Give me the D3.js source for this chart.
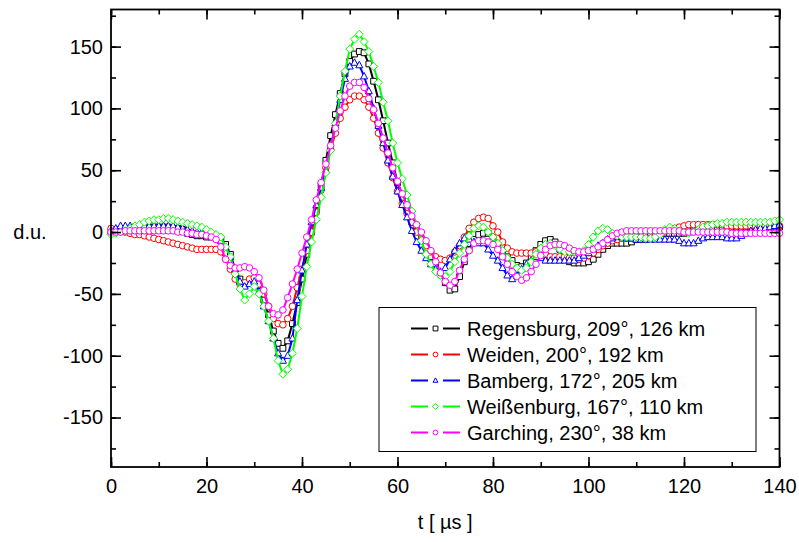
<!DOCTYPE html>
<html>

<head>
    <title>Feldstärke-Wellenformen</title>
    <meta http-equiv="Content-Type" content="text/html;charset=utf-8" />
    <script src="https://cdn.jsdelivr.net/npm/d3@7"></script>
    <style>
        body {
            margin: 0;
            background: #fff;
        }

        text {
            font-family: Arial, "Liberation Sans", sans-serif;
        }
    </style>
</head>

<body>
    <svg width="799" height="542" id="mainsvg"></svg>
    <script>
        // sample times in µs, one sample per µs
        const times = d3.range(0, 141);

        // values (d.u.), index = time in µs
        const regensburg = [
            0, 1, 2, 3, 3, 4, 4, 4, 4, 4,
            4, 4, 4, 3, 3, 2, -1, -2, -3, -3,
            -4, -4, -4, -6, -10, -18, -30, -38, -43, -41,
            -40, -45, -55, -67, -80, -90, -94, -88, -74, -57,
            -38, -18, 0, 18, 38, 58, 78, 95, 112, 128,
            138, 144, 146, 145, 136, 122, 107, 90, 72, 56,
            40, 28, 18, 8, 1, -6, -13, -20, -27, -34,
            -41, -47, -46, -36, -24, -14, -6, -2, -1, -1,
            -6, -11, -16, -20, -23, -27, -28, -25, -20, -15,
            -10, -7, -6, -8, -14, -20, -24, -25, -25, -25,
            -24, -22, -18, -14, -11, -9, -9, -9, -9, -8,
            -6, -3, -1, -1, -1, -1, -1, -1, -1, -1,
            -1, 0, 1, 3, 3, 3, 4, 4, 4, 4,
            4, 4, 4, 4, 4, 4, 4, 4, 4, 4, 4
        ];
        const weiden = [
            3, 2, 1, 0, -1, -2, -2, -3, -4, -5,
            -6, -7, -8, -9, -10, -11, -12, -13, -14, -14,
            -14, -14, -14, -16, -22, -30, -38, -42, -41, -38,
            -37, -42, -50, -60, -70, -74, -75, -70, -60, -45,
            -30, -15, 0, 16, 34, 52, 67, 80, 92, 101,
            107, 110, 110, 107, 101, 92, 80, 68, 56, 44,
            33, 23, 15, 8, 0, -6, -11, -16, -20, -22,
            -23, -21, -16, -11, -4, 3, 8, 11, 12, 11,
            5, 0, -8, -13, -16, -17, -17, -17, -17, -16,
            -16, -18, -20, -20, -20, -20, -21, -21, -22, -21,
            -19, -17, -14, -11, -9, -7, -6, -5, -5, -5,
            -5, -6, -6, -5, -3, -1, 1, 2, 3, 4,
            5, 6, 6, 6, 6, 6, 6, 6, 6, 5,
            5, 5, 5, 5, 5, 5, 5, 5, 5, 5, 5
        ];
        const bamberg = [
            1, 3, 5, 5, 5, 4, 4, 5, 5, 5,
            5, 5, 5, 5, 4, 3, 2, 1, 0, 0,
            -1, -2, -4, -7, -12, -20, -30, -40, -44, -42,
            -40, -48, -60, -72, -86, -98, -104, -100, -86, -55,
            -31, -10, 8, 22, 36, 50, 68, 88, 107, 124,
            134, 137, 135, 126, 114, 100, 86, 72, 58, 45,
            33, 22, 12, 1, -8, -15, -21, -26, -30, -32,
            -29, -22, -15, -9, -5, -6, -8, -9, -9, -14,
            -19, -23, -29, -35, -38, -35, -30, -26, -23, -20,
            -21, -23, -23, -23, -23, -23, -23, -23, -21, -19,
            -17, -14, -11, -9, -6, -5, -4, -4, -5, -5,
            -6, -6, -6, -6, -6, -6, -6, -6, -6, -7,
            -9, -9, -9, -7, -5, -4, -4, -4, -4, -5,
            -5, -5, -3, -1, 1, 2, 3, 3, 4, 5, 6
        ];
        const weissenburg = [
            -2, -1, 0, 1, 3, 5, 6, 8, 9, 10,
            10, 11, 11, 10, 9, 8, 7, 6, 5, 4,
            2, 0, -2, -4, -12, -20, -34, -46, -55, -50,
            -44, -50, -60, -72, -86, -104, -115, -111, -98, -78,
            -52, -28, -8, 10, 28, 48, 66, 88, 110, 130,
            148, 156, 160, 154, 146, 134, 121, 105, 90, 72,
            56, 43, 30, 17, 6, -7, -18, -26, -32, -35,
            -36, -32, -24, -17, -10, -3, 3, 5, 4, 0,
            -4, -9, -15, -21, -26, -29, -31, -29, -24, -18,
            -13, -10, -9, -11, -14, -16, -16, -16, -16, -15,
            -10, -4, 1, 3, 2, -1, -3, -4, -4, -4,
            -4, -4, -5, -5, -4, -2, 2, 4, 3, 1,
            0, -1, 0, 2, 4, 5, 6, 7, 7, 8,
            8, 8, 8, 8, 8, 8, 8, 8, 8, 9, 10
        ];
        const garching = [
            0, 0, 0, 1, 1, 1, 1, 1, 1, 1,
            1, 1, 1, 1, 0, 0, -1, -1, -2, -2,
            -3, -4, -6, -12, -22, -27, -29, -29, -28, -29,
            -32, -37, -47, -60, -66, -67, -63, -53, -42, -30,
            -17, -4, 10, 26, 40, 55, 70, 84, 98, 110,
            118, 121, 121, 117, 108, 99, 88, 76, 64, 52,
            41, 31, 22, 13, 6, 0, -7, -15, -24, -33,
            -40, -43, -40, -31, -22, -15, -9, -7, -7, -8,
            -10, -14, -20, -26, -32, -36, -39, -37, -32, -26,
            -19, -14, -11, -10, -10, -11, -13, -15, -16, -16,
            -15, -14, -12, -9, -6, -3, -1, 0, 1, 1,
            1, 1, 1, 1, 1, 1, 1, 1, 1, 1,
            0, 0, 0, 0, 0, 0, 0, 0, 0, 0,
            -1, -1, -1, -1, -1, -1, -1, -1, -1, -1, -1
        ];

        const seriesNames = [
            'Regensburg, 209°, 126 km',
            'Weiden, 200°, 192 km',
            'Bamberg, 172°, 205 km',
            'Weißenburg, 167°, 110 km',
            'Garching, 230°, 38 km'
        ];
        const seriesValues = [regensburg, weiden, bamberg, weissenburg, garching];
        const seriesColors = ['#000000', '#ff0000', '#0000ff', '#00ff00', '#ff00ff'];
        const seriesSymbols = ['square', 'circle', 'triangle', 'diamond', 'circle'];

        const xTicks = [0, 20, 40, 60, 80, 100, 120, 140];
        const xMinor = d3.range(0, 141, 10);
        const yTicks = [-150, -100, -50, 0, 50, 100, 150];
        const yMinor = d3.range(-175, 180, 25);

        // the usual routine
        const svg = d3.select('svg');
        const width = +svg.attr('width');
        const height = +svg.attr('height');
        const margin = { top: 9.5, right: 19.5, bottom: 75, left: 111 };
        const innerWidth = width - margin.left - margin.right;
        const innerHeight = height - margin.top - margin.bottom;
        const mainGroup = svg.append('g')
            .attr('transform', `translate(${margin.left}, ${margin.top})`);

        const xScale = d3.scaleLinear().domain([0, 140]).range([0, innerWidth]);
        const yScale = d3.scaleLinear().domain([-190, 180]).range([innerHeight, 0]);

        // marker shapes (open symbols, white inside)
        const markerPath = (type, s) => {
            if (type === 'square') return `M${-s},${-s}h${2 * s}v${2 * s}h${-2 * s}Z`;
            if (type === 'triangle') return `M0,${-s * 1.1}L${s},${s * 0.75}L${-s},${s * 0.75}Z`;
            if (type === 'diamond') return `M0,${-s}L${s},0L0,${s}L${-s},0Z`;
            return `M${s},0A${s},${s} 0 1,1 ${-s},0A${s},${s} 0 1,1 ${s},0Z`;
        };
        const markerSize = { square: 2.9, circle: 3.3, triangle: 3.5, diamond: 4 };

        const line = d3.line()
            .x((d, i) => xScale(times[i]))
            .y(d => yScale(d));

        seriesValues.forEach((vals, k) => {
            const g = mainGroup.append('g');
            g.append('path').datum(vals)
                .attr('d', line)
                .attr('fill', 'none')
                .attr('stroke', seriesColors[k])
                .attr('stroke-width', 2)
                .attr('stroke-linejoin', 'round');
            g.selectAll('path.mk').data(vals).enter().append('path')
                .attr('class', 'mk')
                .attr('d', markerPath(seriesSymbols[k], markerSize[seriesSymbols[k]]))
                .attr('transform', (d, i) => `translate(${xScale(times[i])},${yScale(d)})`)
                .attr('fill', 'white')
                .attr('stroke', seriesColors[k])
                .attr('stroke-width', 1);
        });

        // axes: ticks point inward on all four sides
        const styleAxis = sel => {
            sel.select('.domain').remove();
            sel.selectAll('.tick line').attr('stroke', 'black').attr('stroke-width', 1.6);
            sel.selectAll('.tick text').attr('font-size', '20px').attr('fill', 'black');
        };
        const noLabels = sel => { styleAxis(sel); sel.selectAll('.tick text').remove(); };
        const plain = d => String(d);

        mainGroup.append('g').attr('transform', `translate(0, ${innerHeight})`)
            .call(d3.axisBottom(xScale).tickValues(xMinor).tickSize(-5)).call(noLabels);
        mainGroup.append('g').attr('transform', `translate(0, ${innerHeight})`)
            .call(d3.axisBottom(xScale).tickValues(xTicks).tickSize(-10).tickPadding(12).tickFormat(plain)).call(styleAxis);
        mainGroup.append('g')
            .call(d3.axisTop(xScale).tickValues(xMinor).tickSize(-5)).call(noLabels);
        mainGroup.append('g')
            .call(d3.axisTop(xScale).tickValues(xTicks).tickSize(-10)).call(noLabels);
        mainGroup.append('g')
            .call(d3.axisLeft(yScale).tickValues(yMinor).tickSize(-5)).call(noLabels);
        mainGroup.append('g')
            .call(d3.axisLeft(yScale).tickValues(yTicks).tickSize(-10).tickPadding(8).tickFormat(plain)).call(styleAxis);
        mainGroup.append('g').attr('transform', `translate(${innerWidth}, 0)`)
            .call(d3.axisRight(yScale).tickValues(yMinor).tickSize(-5)).call(noLabels);
        mainGroup.append('g').attr('transform', `translate(${innerWidth}, 0)`)
            .call(d3.axisRight(yScale).tickValues(yTicks).tickSize(-10)).call(noLabels);

        // frame
        mainGroup.append('rect')
            .attr('width', innerWidth).attr('height', innerHeight)
            .attr('fill', 'none').attr('stroke', 'black').attr('stroke-width', 1.8);

        // axis titles
        svg.append('text').text('d.u.')
            .attr('x', 30).attr('y', margin.top + yScale(0)).attr('dy', '0.35em')
            .attr('text-anchor', 'middle').attr('font-size', '20px').attr('fill', 'black');
        svg.append('text').text('t [ µs ]')
            .attr('x', margin.left + innerWidth / 2).attr('y', 529)
            .attr('text-anchor', 'middle').attr('font-size', '20px').attr('fill', 'black');

        // legend
        const legend = svg.append('g').attr('transform', 'translate(379, 307.5)');
        legend.append('rect')
            .attr('width', 377).attr('height', 144)
            .attr('fill', 'white').attr('stroke', 'black').attr('stroke-width', 1);
        seriesNames.forEach((name, k) => {
            const row = legend.append('g').attr('transform', `translate(0, ${21 + k * 26})`);
            row.append('line').attr('x1', 32).attr('x2', 49)
                .attr('stroke', seriesColors[k]).attr('stroke-width', 2);
            row.append('line').attr('x1', 64).attr('x2', 81)
                .attr('stroke', seriesColors[k]).attr('stroke-width', 2);
            row.append('path')
                .attr('d', markerPath(seriesSymbols[k], seriesSymbols[k] === 'diamond' ? 3 : 2.4))
                .attr('transform', 'translate(56.5, 0)')
                .attr('fill', 'white').attr('stroke', seriesColors[k]).attr('stroke-width', 1);
            row.append('text').text(name)
                .attr('x', 88).attr('dy', '0.35em')
                .attr('font-size', '20px').attr('fill', 'black');
        });
    </script>
</body>

</html>
